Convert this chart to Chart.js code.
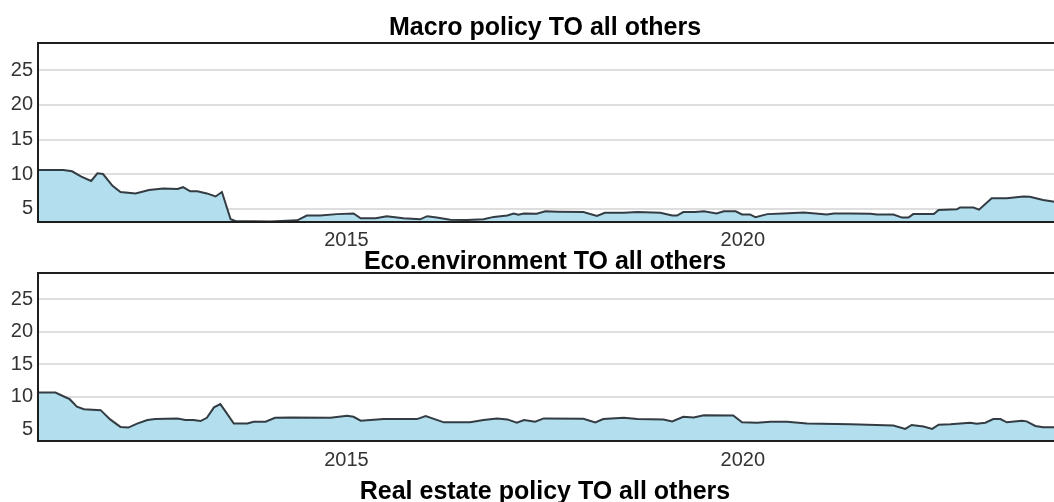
<!DOCTYPE html>
<html>
<head>
<meta charset="utf-8">
<script src="https://cdn.jsdelivr.net/npm/chart.js@4.4.1/dist/chart.umd.min.js"></script>
<style>
  html, body { margin: 0; padding: 0; background: #fff; overflow: hidden; width: 1054px; height: 502px; }
  .panel { position: absolute; left: 0; }
  #title3 {
    position: absolute; left: 0; width: 1090px; top: 478px;
    text-align: center; font: bold 25px "Liberation Sans", Arial, sans-serif;
    line-height: 25px; color: #000;
  }
</style>
</head>
<body>
<canvas id="macro" class="panel" width="1090" height="252" style="top:0px"></canvas>
<canvas id="eco" class="panel" width="1090" height="229" style="top:242px"></canvas>
<div id="title3"></div>
<script>
// Spillover index of each block TO all others, by date (decimal years)
var macroYears = [2011.11, 2011.43, 2011.54, 2011.65, 2011.78, 2011.86, 2011.93, 2012.05, 2012.15, 2012.34,
  2012.51, 2012.69, 2012.87, 2012.94, 2013.03, 2013.12, 2013.24, 2013.35, 2013.43, 2013.54,
  2013.60, 2014.04, 2014.38, 2014.50, 2014.67, 2014.88, 2015.09, 2015.18, 2015.37, 2015.51,
  2015.72, 2015.93, 2016.02, 2016.14, 2016.31, 2016.52, 2016.73, 2016.86, 2017.03, 2017.11,
  2017.17, 2017.24, 2017.40, 2017.51, 2017.66, 2017.99, 2018.16, 2018.26, 2018.50, 2018.67,
  2018.96, 2019.11, 2019.17, 2019.25, 2019.40, 2019.51, 2019.67, 2019.76, 2019.91, 2019.99,
  2020.09, 2020.16, 2020.31, 2020.51, 2020.77, 2021.06, 2021.15, 2021.36, 2021.61, 2021.69,
  2021.90, 2022.01, 2022.09, 2022.15, 2022.41, 2022.47, 2022.70, 2022.74, 2022.91, 2022.98,
  2023.14, 2023.33, 2023.54, 2023.62, 2023.79, 2023.93];
var macroValues = [10.6, 10.6, 10.4, 9.65, 9.0, 10.1, 10.0, 8.3, 7.4, 7.2,
  7.7, 7.9, 7.85, 8.1, 7.5, 7.5, 7.2, 6.75, 7.4, 3.45,
  3.2, 3.15, 3.3, 4.0, 4.0, 4.2, 4.3, 3.6, 3.6, 3.9,
  3.6, 3.45, 3.9, 3.7, 3.4, 3.35, 3.45, 3.8, 4.0, 4.3,
  4.1, 4.3, 4.25, 4.6, 4.55, 4.5, 3.95, 4.4, 4.4, 4.5,
  4.4, 4.0, 4.0, 4.5, 4.5, 4.6, 4.3, 4.6, 4.6, 4.15,
  4.15, 3.75, 4.2, 4.3, 4.45, 4.15, 4.3, 4.3, 4.25, 4.15,
  4.15, 3.7, 3.7, 4.2, 4.2, 4.8, 4.9, 5.15, 5.15, 4.85,
  6.5, 6.5, 6.75, 6.7, 6.25, 6.0];

var ecoYears = [2011.11, 2011.33, 2011.43, 2011.51, 2011.60, 2011.69, 2011.90, 2012.02, 2012.15, 2012.25,
  2012.36, 2012.49, 2012.59, 2012.87, 2012.97, 2013.07, 2013.16, 2013.24, 2013.33, 2013.41,
  2013.47, 2013.58, 2013.75, 2013.83, 2013.98, 2014.10, 2014.29, 2014.80, 2015.01, 2015.09,
  2015.18, 2015.47, 2015.89, 2016.00, 2016.23, 2016.56, 2016.73, 2016.90, 2017.03, 2017.15,
  2017.24, 2017.38, 2017.49, 2017.99, 2018.14, 2018.24, 2018.50, 2018.67, 2019.00, 2019.11,
  2019.25, 2019.38, 2019.51, 2019.88, 2019.99, 2020.18, 2020.35, 2020.56, 2020.81, 2021.36,
  2021.90, 2022.05, 2022.13, 2022.28, 2022.39, 2022.47, 2022.62, 2022.87, 2022.95, 2023.06,
  2023.16, 2023.25, 2023.33, 2023.52, 2023.58, 2023.69, 2023.79, 2023.93];
var ecoValues = [10.67, 10.67, 10.1, 9.65, 8.5, 8.1, 7.97, 6.55, 5.4, 5.3,
  5.9, 6.45, 6.6, 6.7, 6.45, 6.45, 6.3, 6.8, 8.4, 8.9,
  7.86, 5.93, 5.93, 6.2, 6.2, 6.8, 6.85, 6.8, 7.1, 6.95,
  6.35, 6.6, 6.6, 7.05, 6.1, 6.1, 6.45, 6.7, 6.55, 6.05,
  6.45, 6.2, 6.7, 6.65, 6.1, 6.6, 6.8, 6.6, 6.55, 6.25,
  6.95, 6.85, 7.2, 7.15, 6.1, 6.05, 6.2, 6.2, 5.93, 5.8,
  5.6, 5.1, 5.7, 5.45, 5.1, 5.75, 5.8, 6.05, 5.9, 6.05,
  6.6, 6.6, 6.1, 6.35, 6.25, 5.55, 5.35, 5.35];

var yTicks = [5, 10, 15, 20, 25];
var xTicks = [2015, 2020];
var panelTitles = ['Macro policy TO all others', 'Eco.environment TO all others', 'Real estate policy TO all others'];

var FONT = '"Liberation Sans", Arial, sans-serif';

// box around the plotting area, drawn on top of the filled series
var framePlugin = {
  id: 'frame',
  afterDatasetsDraw: function(chart) {
    var a = chart.chartArea, ctx = chart.ctx;
    ctx.save();
    ctx.strokeStyle = '#1e1e1e';
    ctx.lineWidth = 2;
    ctx.strokeRect(a.left, a.top, a.right - a.left, a.bottom - a.top);
    ctx.restore();
  }
};

function toPoints(xs, ys) {
  return xs.map(function(x, i) { return { x: x, y: ys[i] }; });
}

function makePanel(id, title, xs, ys, opts) {
  var ctx = document.getElementById(id).getContext('2d');
  return new Chart(ctx, {
    type: 'line',
    data: {
      datasets: [{
        data: toPoints(xs, ys),
        borderColor: '#333c42',
        borderWidth: 2,
        backgroundColor: 'rgb(178,222,238)',
        fill: 'start',
        pointRadius: 0,
        tension: 0
      }]
    },
    options: {
      responsive: false,
      animation: false,
      devicePixelRatio: 1,
      layout: { padding: 0 },
      plugins: {
        legend: { display: false },
        tooltip: { enabled: false },
        title: {
          display: true,
          text: title,
          color: '#000',
          font: { family: FONT, size: 25, weight: 'bold', lineHeight: 0.88 },
          padding: opts.titlePadding
        }
      },
      scales: {
        x: {
          type: 'linear',
          min: 2011.11,
          max: 2024.38,
          grid: { display: false, drawTicks: false },
          border: { display: false },
          afterBuildTicks: function(axis) {
            axis.ticks = xTicks.map(function(v) { return { value: v }; });
          },
          afterFit: function(axis) { axis.height = 30; },
          ticks: {
            padding: opts.xPad,
            color: '#333',
            font: { family: FONT, size: 20 },
            maxRotation: 0,
            callback: function(v) { return String(v); }
          }
        },
        y: {
          min: opts.yMin,
          max: opts.yMax,
          grid: { color: '#dedede', lineWidth: 2, drawTicks: false },
          border: { display: false },
          afterBuildTicks: function(axis) {
            axis.ticks = yTicks.map(function(v) { return { value: v }; });
          },
          afterFit: function(axis) { axis.width = 38; },
          ticks: {
            padding: 5,
            color: '#333',
            font: { family: FONT, size: 20 }
          }
        }
      }
    },
    plugins: [framePlugin]
  });
}

makePanel('macro', panelTitles[0], macroYears, macroValues,
  { titlePadding: { top: 17, bottom: 4 }, xPad: 6, yMin: 3.06, yMax: 28.97 });
makePanel('eco', panelTitles[1], ecoYears, ecoValues,
  { titlePadding: { top: 9, bottom: 0 }, xPad: 7, yMin: 3.24, yMax: 29.0 });
document.getElementById('title3').textContent = panelTitles[2];
</script>
</body>
</html>
